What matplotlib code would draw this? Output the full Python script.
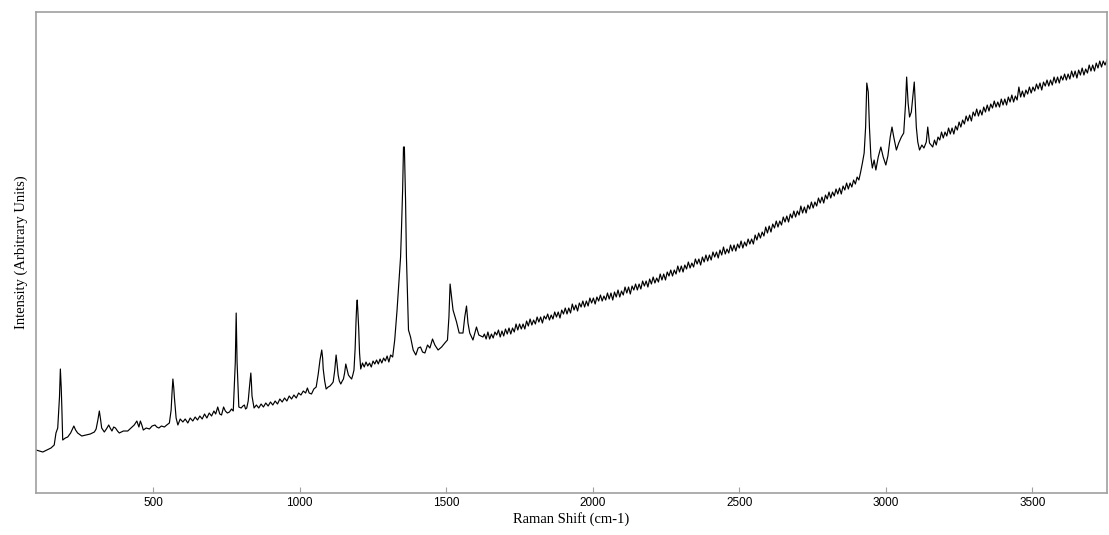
import matplotlib
matplotlib.use('Agg')

import matplotlib.pyplot as plt
import numpy as np

# Raman spectrum (wavenumber in cm-1, intensity in arbitrary units)
shift_low = [100, 112, 123, 137, 151, 162, 168, 174, 180, 183, 186, 188, 191, 200, 208,
             218, 229, 235, 242, 256, 271, 285, 299, 305, 311, 316, 320, 324, 333, 340,
             348, 353, 359, 365, 371, 378, 384, 398, 413, 424, 435, 444, 451, 456, 461,
             466, 476, 487, 496, 506, 512, 519, 528, 538, 546, 555, 561, 564, 567, 570,
             572, 578, 584, 592, 601, 609, 618, 626, 635, 643, 651, 659, 667, 675, 683,
             691, 699, 707, 713, 720, 727, 733, 740, 746, 753, 760, 767, 773, 780, 783,
             786, 792, 800, 806, 811, 815, 819, 824, 828, 833, 835, 837, 844, 852, 860,
             868, 876, 884, 892, 900, 908, 916, 924, 932, 940, 948, 956, 964, 972, 980,
             988, 996, 1004, 1012, 1020, 1026, 1032, 1040, 1048, 1056, 1063, 1069, 1075,
             1078, 1080, 1085, 1090, 1097, 1103, 1109, 1114, 1119, 1124, 1127, 1131, 1135,
             1140, 1145, 1149, 1153, 1157, 1161, 1166, 1171, 1177, 1181, 1185, 1189, 1192,
             1194, 1196, 1198, 1201, 1204, 1208, 1214, 1220, 1226, 1232, 1238, 1244, 1250,
             1256, 1262, 1268, 1274, 1280, 1286, 1292, 1298, 1304, 1310, 1317, 1324]
int_low = [43, 42, 41, 43, 45, 48, 60, 65, 96, 124, 105, 86, 53, 55, 56,
           60, 67, 63, 60, 57, 58, 59, 61, 64, 73, 82, 74, 65, 61, 64,
           68, 65, 62, 66, 65, 62, 60, 62, 62, 65, 68, 72, 66, 72, 68,
           63, 65, 64, 67, 68, 66, 65, 67, 66, 68, 70, 83, 100, 114, 105,
           96, 75, 68, 74, 71, 74, 70, 75, 72, 76, 73, 77, 74, 79, 75,
           80, 77, 82, 79, 86, 79, 78, 86, 82, 80, 81, 84, 82, 131, 180,
           131, 86, 85, 87, 88, 84, 85, 92, 105, 120, 110, 97, 85, 88, 85,
           89, 86, 90, 87, 91, 88, 92, 89, 94, 91, 95, 92, 97, 94, 98,
           95, 100, 98, 102, 100, 105, 100, 99, 104, 106, 119, 133, 143,
           135, 124, 112, 104, 106, 107, 109, 111, 122, 138, 130, 118, 112,
           109, 112, 114, 120, 129, 124, 118, 116, 114, 118, 123, 145, 172,
           186, 193, 183, 165, 140, 124, 130, 126, 131, 127, 130, 126, 132,
           129, 133, 129, 134, 130, 135, 132, 137, 131, 138, 136, 153]

shift_peak = [1332, 1339, 1344, 1347, 1351, 1354, 1357, 1361, 1364, 1368, 1371, 1378,
              1387, 1396, 1404, 1412, 1419, 1427, 1436, 1444, 1453, 1461, 1472, 1484,
              1495, 1504, 1509, 1513, 1518, 1523, 1535, 1544, 1557, 1563, 1569, 1574,
              1580, 1591, 1603, 1611, 1625]
int_peak = [183, 213, 236, 263, 303, 346, 346, 293, 236, 193, 163, 156,
            143, 138, 145, 146, 141, 140, 148, 145, 154, 148, 143, 146,
            150, 153, 176, 209, 196, 183, 171, 160, 160, 176, 187, 170,
            160, 153, 166, 158, 156]

shift_mid = [1630, 1636, 1642, 1648, 1654, 1660, 1666, 1672, 1678, 1684, 1690, 1696,
             1702, 1708, 1714, 1720, 1726, 1732, 1738, 1744, 1750, 1756, 1762, 1768,
             1774, 1780, 1786, 1792, 1798, 1804, 1810, 1816, 1822, 1828, 1834, 1840,
             1846, 1852, 1858, 1864, 1870, 1876, 1882, 1888, 1894, 1900, 1906, 1912,
             1918, 1924, 1930, 1936, 1942, 1948, 1954, 1960, 1966, 1972, 1978, 1984,
             1990, 1996, 2002, 2008, 2014, 2020, 2026, 2032, 2038, 2044, 2050, 2056,
             2062, 2068, 2074, 2080, 2086, 2092, 2098, 2104, 2110, 2116, 2122, 2128,
             2134, 2140, 2146, 2152, 2158, 2164, 2170, 2176, 2182, 2188, 2194, 2200,
             2206, 2212, 2218, 2224, 2230, 2236, 2242, 2248, 2254, 2260, 2266, 2272,
             2278, 2284, 2290, 2296, 2302, 2308, 2314, 2320, 2326, 2332, 2338, 2344,
             2350, 2356, 2362, 2368, 2374, 2380, 2386, 2392, 2398, 2404, 2410, 2416,
             2422, 2428, 2434, 2440, 2446, 2452, 2458, 2464, 2470, 2476, 2482, 2488,
             2494, 2500, 2506, 2512, 2518, 2524, 2530, 2536, 2542, 2548, 2554, 2560,
             2566, 2572, 2578, 2584, 2590, 2596, 2602, 2608, 2614, 2620, 2626, 2632,
             2638, 2644, 2650, 2656, 2662, 2668, 2674, 2680, 2686, 2692, 2698, 2704,
             2710, 2716, 2722, 2728, 2734, 2740, 2746, 2752, 2758, 2764, 2770, 2776,
             2782, 2788, 2794, 2800, 2806, 2812, 2818, 2824, 2830, 2836, 2842, 2848,
             2854, 2860, 2866, 2872, 2878, 2884, 2890, 2896, 2902, 2908, 2914, 2920]
int_mid = [159, 154, 161, 154, 159, 155, 161, 158, 163, 156, 162, 157,
           164, 159, 165, 159, 165, 161, 169, 163, 169, 164, 169, 164,
           172, 167, 174, 168, 173, 169, 176, 171, 176, 170, 177, 174,
           179, 173, 178, 174, 181, 176, 181, 175, 183, 179, 185, 179,
           185, 180, 189, 183, 188, 182, 190, 186, 192, 186, 192, 187,
           195, 190, 195, 189, 196, 192, 198, 192, 197, 193, 200, 194,
           200, 193, 201, 196, 203, 196, 202, 198, 206, 200, 206, 199,
           207, 203, 209, 203, 209, 204, 212, 207, 212, 206, 214, 209,
           216, 210, 215, 211, 219, 213, 219, 213, 221, 217, 223, 217,
           223, 219, 227, 221, 227, 221, 228, 224, 231, 225, 230, 226,
           234, 229, 234, 228, 236, 231, 238, 232, 238, 233, 241, 236,
           241, 235, 243, 238, 246, 239, 244, 240, 248, 242, 248, 242,
           249, 245, 252, 245, 251, 247, 254, 249, 254, 249, 258, 253,
           260, 255, 261, 257, 266, 260, 267, 261, 269, 265, 272, 266,
           272, 268, 276, 271, 277, 271, 279, 275, 282, 276, 282, 278,
           287, 280, 286, 280, 288, 284, 291, 285, 291, 287, 295, 290,
           296, 290, 298, 294, 301, 295, 301, 297, 304, 299, 305, 299,
           307, 303, 310, 304, 310, 306, 313, 309, 316, 313, 321, 330]

shift_ch = [2926, 2931, 2935, 2940, 2944, 2949, 2954, 2960, 2966, 2974, 2983, 2991,
            3000, 3007, 3015, 3021, 3027, 3036, 3044, 3053, 3061, 3067, 3071, 3076,
            3081, 3087, 3092, 3097, 3100, 3104, 3109, 3115, 3123, 3130, 3138, 3143,
            3149, 3160]
int_ch = [340, 366, 410, 401, 366, 336, 325, 333, 323, 336, 346, 336,
          328, 337, 356, 366, 356, 343, 350, 356, 360, 388, 416, 390,
          376, 381, 396, 411, 393, 366, 351, 343, 348, 345, 351, 366,
          350, 346]

shift_high = [3166, 3172, 3178, 3184, 3190, 3196, 3202, 3208, 3214, 3220, 3226, 3232,
              3238, 3244, 3250, 3256, 3262, 3268, 3274, 3280, 3286, 3292, 3298, 3304,
              3310, 3316, 3322, 3328, 3334, 3340, 3346, 3352, 3358, 3364, 3370, 3376,
              3382, 3388, 3394, 3400, 3406, 3412, 3418, 3424, 3430, 3436, 3442, 3448,
              3454, 3460, 3466, 3472, 3478, 3484, 3490, 3496, 3502, 3508, 3514, 3520,
              3526, 3532, 3538, 3544, 3550, 3556, 3562, 3568, 3574, 3580, 3586, 3592,
              3598, 3604, 3610, 3616, 3622, 3628, 3634, 3640, 3646, 3652, 3658, 3664,
              3670, 3676, 3682, 3688, 3694, 3700, 3706, 3712, 3718, 3724, 3730, 3736,
              3742, 3748, 3756]
int_high = [353, 348, 356, 353, 361, 355, 361, 357, 365, 359, 365, 359,
            367, 363, 371, 366, 373, 369, 377, 372, 378, 372, 381, 377,
            384, 377, 383, 378, 386, 381, 388, 382, 389, 385, 392, 386,
            391, 386, 394, 388, 394, 388, 396, 391, 398, 391, 397, 393,
            406, 396, 402, 396, 403, 399, 406, 400, 406, 402, 409, 404,
            410, 403, 411, 407, 413, 407, 413, 408, 416, 410, 416, 410,
            417, 413, 419, 413, 419, 414, 422, 416, 422, 415, 423, 418,
            425, 418, 424, 420, 428, 422, 428, 422, 430, 425, 432, 426,
            432, 428, 434]

shift = np.array(shift_low + shift_peak + shift_mid + shift_ch + shift_high)
intensity = np.array(int_low + int_peak + int_mid + int_ch + int_high)

x_ticks = [500, 1000, 1500, 2000, 2500, 3000, 3500]

fig = plt.figure(figsize=(11.09, 5.35), dpi=100)
ax = fig.add_axes([0.0325, 0.0785, 0.9655, 0.899])

ax.plot(shift, intensity, color='black', linewidth=0.85)

ax.set_xlim(100, 3754)
ax.set_ylim(0, 481)
ax.set_xticks(x_ticks)
ax.set_yticks([])
ax.tick_params(axis='x', direction='in', length=4, color='#a0a0a0',
               labelsize=8.5, pad=3)
for lbl in ax.get_xticklabels():
    lbl.set_family('Liberation Sans')
for sp in ax.spines.values():
    sp.set_color('#a0a0a0')
    sp.set_linewidth(1.2)

ax.set_xlabel('Raman Shift (cm-1)', family='Liberation Serif', fontsize=10.5, labelpad=2)
ax.set_ylabel('Intensity (Arbitrary Units)', family='Liberation Serif', fontsize=10.5, labelpad=6)

fig.savefig('out.png', dpi=100)
